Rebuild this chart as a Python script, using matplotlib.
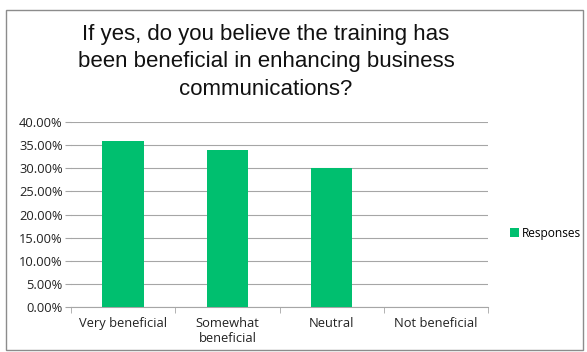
import matplotlib.pyplot as plt
from matplotlib.patches import Rectangle
from matplotlib.ticker import FuncFormatter

categories = ["Very beneficial", "Somewhat\nbeneficial", "Neutral", "Not beneficial"]
responses = [0.36, 0.34, 0.30, 0.0]
yticks = [0.0, 0.05, 0.10, 0.15, 0.20, 0.25, 0.30, 0.35, 0.40]

bar_color = "#00BF6F"
grid_color = "#A6A6A6"


def main() -> None:
    fig = plt.figure(figsize=(5.87, 3.52), dpi=100)
    fig.patch.set_facecolor("white")

    # chart frame
    fig.patches.append(Rectangle((6 / 587, 1 - 350 / 352), 577 / 587, 340 / 352,
                                 transform=fig.transFigure, fill=False,
                                 edgecolor="#8C8C8C", linewidth=1.0))

    ax = fig.add_axes([71 / 587, 1 - 307 / 352, 417 / 587, 185 / 352])
    x = list(range(len(categories)))
    ax.bar(x, responses, width=0.4, color=bar_color, label="Responses", zorder=3)

    ax.set_xlim(-0.5, len(categories) - 0.5)
    ax.set_ylim(0, 0.40)
    ax.set_yticks(yticks)
    ax.yaxis.set_major_formatter(FuncFormatter(lambda v, p: f"{v * 100:.2f}%"))
    ax.set_xticks(x)
    ax.set_xticklabels(categories, fontsize=9.3, fontfamily="Open Sans", color="#222222",
                       linespacing=1.2)
    ax.set_xticks([i - 0.5 for i in range(len(categories) + 1)], minor=True)
    ax.tick_params(axis="x", which="major", length=0, pad=7)
    ax.tick_params(axis="x", which="minor", length=4, color=grid_color, direction="out")
    ax.tick_params(axis="y", length=4, color=grid_color, labelsize=9.3, pad=2,
                   labelcolor="#222222")
    for lbl in ax.get_yticklabels():
        lbl.set_fontfamily("Open Sans")

    ax.grid(axis="y", color=grid_color, linewidth=0.8, zorder=0)
    for side in ["top", "right", "left"]:
        ax.spines[side].set_visible(False)
    ax.spines["bottom"].set_color(grid_color)

    fig.text(266 / 587, 1 - 62 / 352,
             "If yes, do you believe the training has\nbeen beneficial in enhancing business\ncommunications?",
             ha="center", va="center", fontsize=16, fontfamily="Liberation Sans",
             linespacing=1.4, color="#111111")

    fig.legend(loc="center left", bbox_to_anchor=(502 / 587, 1 - 233 / 352),
               frameon=False, prop={"family": "Open Sans", "size": 8.6},
               handlelength=0.7, handleheight=0.7, handletextpad=0.3,
               borderpad=0.2)

    plt.savefig("out.png", dpi=100)
    plt.close()


if __name__ == "__main__":
    main()
